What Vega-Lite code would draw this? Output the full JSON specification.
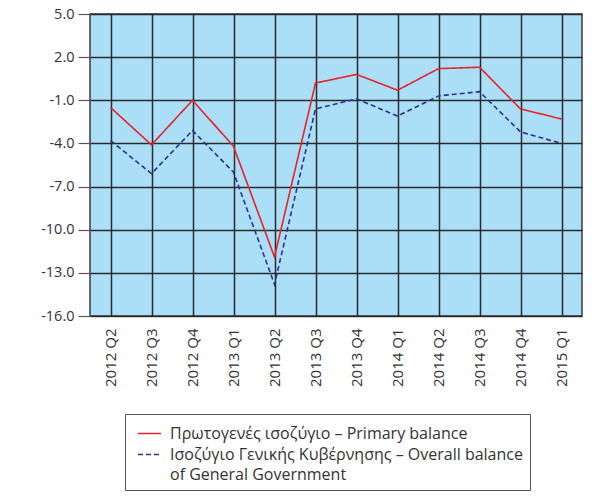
{
  "$schema": "https://vega.github.io/schema/vega-lite/v6.json",
  "width": 492,
  "height": 302,
  "autosize": "none",
  "padding": {"left": 90, "top": 14, "right": 22, "bottom": 184},
  "background": "white",
  "config": {
    "font": "Open Sans",
    "view": {"fill": "#abdff8", "stroke": "#3a3a3a", "strokeWidth": 1.5}
  },
  "data": {
    "values": [
      {"q": "2012 Q2", "series": "Πρωτογενές ισοζύγιο – Primary balance", "v": -1.5},
      {"q": "2012 Q3", "series": "Πρωτογενές ισοζύγιο – Primary balance", "v": -4.1},
      {"q": "2012 Q4", "series": "Πρωτογενές ισοζύγιο – Primary balance", "v": -1.0},
      {"q": "2013 Q1", "series": "Πρωτογενές ισοζύγιο – Primary balance", "v": -4.2},
      {"q": "2013 Q2", "series": "Πρωτογενές ισοζύγιο – Primary balance", "v": -11.9},
      {"q": "2013 Q3", "series": "Πρωτογενές ισοζύγιο – Primary balance", "v": 0.2},
      {"q": "2013 Q4", "series": "Πρωτογενές ισοζύγιο – Primary balance", "v": 0.8},
      {"q": "2014 Q1", "series": "Πρωτογενές ισοζύγιο – Primary balance", "v": -0.3},
      {"q": "2014 Q2", "series": "Πρωτογενές ισοζύγιο – Primary balance", "v": 1.2},
      {"q": "2014 Q3", "series": "Πρωτογενές ισοζύγιο – Primary balance", "v": 1.3},
      {"q": "2014 Q4", "series": "Πρωτογενές ισοζύγιο – Primary balance", "v": -1.6},
      {"q": "2015 Q1", "series": "Πρωτογενές ισοζύγιο – Primary balance", "v": -2.3},
      {"q": "2012 Q2", "series": "Ισοζύγιο Γενικής Κυβέρνησης – Overall balance of General Government", "v": -3.8},
      {"q": "2012 Q3", "series": "Ισοζύγιο Γενικής Κυβέρνησης – Overall balance of General Government", "v": -6.1},
      {"q": "2012 Q4", "series": "Ισοζύγιο Γενικής Κυβέρνησης – Overall balance of General Government", "v": -3.1},
      {"q": "2013 Q1", "series": "Ισοζύγιο Γενικής Κυβέρνησης – Overall balance of General Government", "v": -6.0},
      {"q": "2013 Q2", "series": "Ισοζύγιο Γενικής Κυβέρνησης – Overall balance of General Government", "v": -13.8},
      {"q": "2013 Q3", "series": "Ισοζύγιο Γενικής Κυβέρνησης – Overall balance of General Government", "v": -1.6},
      {"q": "2013 Q4", "series": "Ισοζύγιο Γενικής Κυβέρνησης – Overall balance of General Government", "v": -0.9},
      {"q": "2014 Q1", "series": "Ισοζύγιο Γενικής Κυβέρνησης – Overall balance of General Government", "v": -2.1},
      {"q": "2014 Q2", "series": "Ισοζύγιο Γενικής Κυβέρνησης – Overall balance of General Government", "v": -0.7},
      {"q": "2014 Q3", "series": "Ισοζύγιο Γενικής Κυβέρνησης – Overall balance of General Government", "v": -0.4},
      {"q": "2014 Q4", "series": "Ισοζύγιο Γενικής Κυβέρνησης – Overall balance of General Government", "v": -3.2},
      {"q": "2015 Q1", "series": "Ισοζύγιο Γενικής Κυβέρνησης – Overall balance of General Government", "v": -4.0}
    ]
  },
  "mark": {"type": "line", "strokeWidth": 1.6},
  "encoding": {
    "x": {
      "field": "q",
      "type": "nominal",
      "sort": null,
      "title": null,
      "scale": {"paddingInner": 0, "paddingOuter": 0},
      "axis": {
        "bandPosition": 0,
        "grid": true,
        "gridColor": "#2a2a2a",
        "gridWidth": 1.5,
        "gridOpacity": 1,
        "ticks": false,
        "domain": false,
        "labelAngle": -90,
        "labelPadding": 12,
        "labelFontSize": 15,
        "labelColor": "#333333"
      }
    },
    "y": {
      "field": "v",
      "type": "quantitative",
      "title": null,
      "scale": {"domain": [-16, 5], "nice": false, "zero": false},
      "axis": {
        "values": [-16, -13, -10, -7, -4, -1, 2, 5],
        "labelExpr": "replace(format(datum.value, '.1f'), '−', '-')",
        "grid": true,
        "gridColor": "#2a2a2a",
        "gridWidth": 1.5,
        "gridOpacity": 1,
        "domain": false,
        "tickColor": "#555555",
        "tickSize": 12,
        "tickWidth": 1.2,
        "labelPadding": 4,
        "labelFontSize": 14.5,
        "labelColor": "#333333"
      }
    },
    "color": {
      "field": "series",
      "type": "nominal",
      "sort": null,
      "scale": {"range": ["#e8222b", "#2e3192"]},
      "legend": {
        "title": null,
        "orient": "none",
        "legendX": 35,
        "legendY": 400,
        "strokeColor": "#555555",
        "padding": 7,
        "symbolOffset": 5,
        "symbolType": "stroke",
        "symbolSize": 529,
        "symbolStrokeWidth": 1.6,
        "labelFontSize": 16,
        "labelColor": "#333333",
        "labelLimit": 420,
        "labelOffset": 8,
        "rowPadding": 0,
        "labelExpr": "indexof(datum.label, 'Overall') > 0 ? ['Ισοζύγιο Γενικής Κυβέρνησης – Overall balance', 'of General Government'] : datum.label",
        "encode": {
          "labels": {
            "update": {
              "lineHeight": {"value": 20},
              "baseline": {"value": "line-top"},
              "dy": {"value": -10}
            }
          }
        }
      }
    },
    "strokeDash": {
      "field": "series",
      "type": "nominal",
      "sort": null,
      "scale": {"range": [[1, 0], [5, 3]]}
    }
  }
}
